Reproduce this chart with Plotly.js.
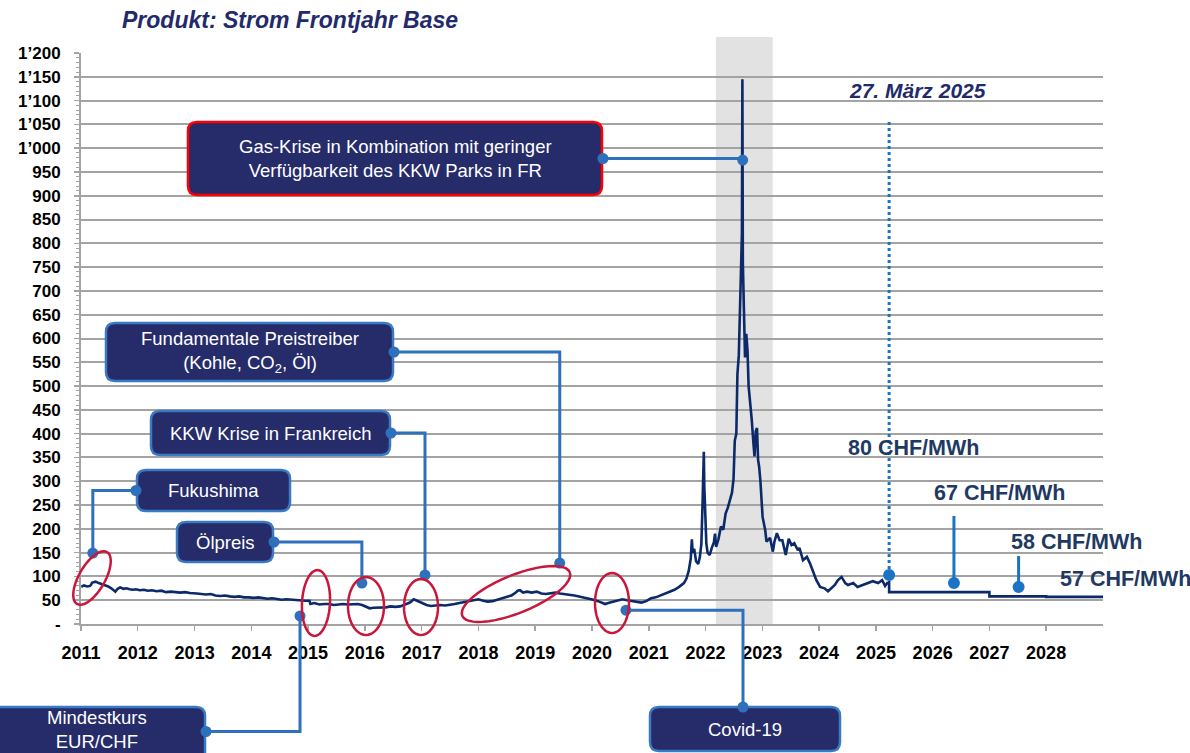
<!DOCTYPE html>
<html><head><meta charset="utf-8">
<script src="https://cdn.plot.ly/plotly-3.0.1.min.js"></script>
<style>html,body{margin:0;padding:0;background:#fff}#chart{width:1190px;height:753px}</style>
</head><body><div id="chart"></div>
<script>
// ---------------- DATA ----------------
const histDates = [
'2011-01-03','2011-01-20','2011-02-10','2011-03-01','2011-03-15','2011-04-05','2011-04-25','2011-05-15','2011-06-05','2011-06-25','2011-07-15','2011-08-10','2011-08-25','2011-09-10','2011-10-01','2011-10-20','2011-11-10','2011-12-01','2011-12-20',
'2012-01-15','2012-02-10','2012-03-05','2012-04-01','2012-05-01','2012-06-01','2012-07-01','2012-08-01','2012-09-01','2012-10-01','2012-11-01','2012-12-01',
'2013-01-15','2013-02-15','2013-03-15','2013-04-15','2013-05-15','2013-06-15','2013-07-15','2013-08-15','2013-09-15','2013-10-15','2013-11-15','2013-12-15',
'2014-01-15','2014-02-15','2014-03-15','2014-04-15','2014-05-15','2014-06-15','2014-07-15','2014-08-15','2014-09-15','2014-10-15','2014-11-15','2014-12-15',
'2015-01-10','2015-01-16','2015-02-10','2015-03-15','2015-04-15','2015-05-15','2015-06-15','2015-07-15','2015-08-15','2015-09-15','2015-10-15','2015-11-15','2015-12-15',
'2016-01-10','2016-02-01','2016-02-25','2016-03-20','2016-04-15','2016-05-15','2016-06-15','2016-07-15','2016-08-15','2016-09-15','2016-10-10','2016-10-25','2016-11-10','2016-11-25','2016-12-10','2016-12-25',
'2017-01-10','2017-02-01','2017-03-01','2017-04-01','2017-05-01','2017-06-01','2017-07-01','2017-08-01','2017-09-01','2017-10-01','2017-11-01','2017-12-01',
'2018-01-01','2018-02-01','2018-03-01','2018-04-01','2018-05-01','2018-06-01','2018-07-01','2018-08-01','2018-08-25','2018-09-10','2018-09-25','2018-10-15','2018-11-10','2018-12-10',
'2019-01-10','2019-02-10','2019-03-10','2019-04-10','2019-05-10','2019-06-10','2019-07-10','2019-08-10','2019-09-10','2019-10-10','2019-11-10','2019-12-10',
'2020-01-10','2020-02-10','2020-03-10','2020-03-25','2020-04-15','2020-05-15','2020-06-15','2020-07-15','2020-08-15','2020-09-15','2020-10-15','2020-11-15','2020-12-15',
'2021-01-15','2021-02-15','2021-03-15','2021-04-15','2021-05-15','2021-06-15','2021-07-15','2021-08-15','2021-09-01','2021-09-15','2021-09-28','2021-10-05','2021-10-10','2021-10-20','2021-11-01','2021-11-15','2021-11-25','2021-12-05','2021-12-12','2021-12-21','2021-12-24','2021-12-30',
'2022-01-06','2022-01-14','2022-01-28','2022-02-10','2022-02-24','2022-03-03','2022-03-10','2022-03-25','2022-04-10','2022-04-25','2022-05-10','2022-05-25','2022-06-10','2022-06-20','2022-06-30','2022-07-08','2022-07-18','2022-07-25','2022-08-03','2022-08-10','2022-08-18','2022-08-23','2022-08-26','2022-08-29','2022-09-05','2022-09-12','2022-09-20','2022-09-28','2022-10-05','2022-10-15','2022-10-25','2022-11-05','2022-11-12','2022-11-20','2022-11-28','2022-12-05','2022-12-12','2022-12-20','2022-12-28',
'2023-01-03','2023-01-20','2023-01-28','2023-02-20','2023-03-10','2023-03-20','2023-04-05','2023-04-22','2023-05-10','2023-06-01','2023-06-20','2023-07-08','2023-07-26','2023-08-18','2023-08-28','2023-09-20','2023-10-15','2023-11-03','2023-11-20','2023-12-15',
'2024-01-08','2024-02-05','2024-02-28','2024-03-25','2024-04-12','2024-05-01','2024-05-25','2024-06-18','2024-07-05','2024-08-08','2024-09-05','2024-10-08','2024-11-10','2024-12-12',
'2025-01-15','2025-02-10','2025-03-01','2025-03-20'
];
const histValues = [
78,81,79,80,87,89,86,84,81,79,75,68,74,77,74,75,73,72,73,
71,72,70,71,69,70,67,68,67,66,67,65,
64,63,62,63,60,59,60,58,57,58,56,56,
55,56,54,53,54,53,51,52,51,50,49,49,
49,42,44,41,42,42,40,41,42,41,42,42,40,
36,33,34,34,35,35,37,36,37,40,44,47,52,50,48,45,
44,40,38,39,40,39,40,42,44,46,49,51,
52,49,47,48,51,54,56,60,65,70,71,66,68,66,
68,64,63,65,66,64,63,61,60,58,56,53,
51,48,45,42,44,47,50,52,50,48,47,45,48,
54,56,60,64,67,72,78,86,96,112,138,178,150,158,132,126,140,168,245,362,290,215,
170,150,145,160,172,190,162,178,205,198,232,245,262,276,305,385,400,525,565,640,735,820,1145,760,660,560,610,575,500,470,430,380,352,405,412,345,330,300,260,
225,197,173,181,152,173,191,176,176,145,179,166,170,155,160,134,141,128,113,92,
78,75,69,78,82,92,99,86,82,86,78,82,86,90,
86,92,80,88
];
// Forward (Frontjahr) prices after 27. März 2025
const fwdDates  = ['2025-03-27','2027-01-01','2028-01-01','2029-01-01'];
const fwdValues = [67,58,57,57];

const yearLabels = ['2011','2012','2013','2014','2015','2016','2017','2018','2019','2020','2021','2022','2023','2024','2025','2026','2027','2028'];
const yTickVals = [0,50,100,150,200,250,300,350,400,450,500,550,600,650,700,750,800,850,900,950,1000,1050,1100,1150,1200];
const yTickText = ['-','50','100','150','200','250','300','350','400','450','500','550','600','650','700','750','800','850','900','950','1’000','1’050','1’100','1’150','1’200'];

const crisisPeriod = ['2022-03-08','2023-03-09'];

// Callouts: text, anchor date, anchor value
const calloutTexts = ['Gas-Krise in Kombination mit geringer<br>Verfügbarkeit des KKW Parks in FR','Fundamentale Preistreiber<br>(Kohle, CO<sub>2</sub>, Öl)','KKW Krise in Frankreich','Fukushima','Ölpreis','Mindestkurs<br>EUR/CHF','Covid-19'];
const calloutDates  = ['2022-08-28','2019-06-08','2017-01-22','2011-03-18','2015-12-13','2014-11-10','2020-08-07'];
const calloutValues = [975,128,103,149,86,17,29];

// Forward markers
const markerText = '27. März 2025';
const markerDate = '2025-03-27';
const fwdLabelTexts  = ['80 CHF/MWh','67 CHF/MWh','58 CHF/MWh','57 CHF/MWh'];
const fwdLabelDates  = ['2024-06-25','2025-12-28','2027-05-05','2028-03-18'];
const fwdLabelValues = [370,275,172,95];
const fwdDotDates    = ['2025-03-27','2026-05-18','2027-07-08'];
const fwdDotValues   = [103,86,78];
const fwdStemTops    = [1059,227,143];

// ---------------- LAYOUT HELPERS ----------------
const L=81, R=1103, T=53, B=624, W=1190, H=753;
const X = px => (px-L)/(R-L);
const Y = py => (B-py)/(B-T);
const t0 = Date.parse('2011-01-01'), t1 = Date.parse('2029-01-01');
const dPx = d => L + (Date.parse(d)-t0)/(t1-t0)*(R-L);
const vPx = v => B - v/1200*(B-T);

const navy='#0c2a69', boxFill='#262c6a', boxLine='#3a79c4', conn='#2f70bd', grid='#a3a3a3', fwdBlue='#1a73c4', labelNavy='#1f3a62', red='#c8173a';
const FONT='Liberation Sans, Arial, sans-serif';

function roundRect(x0,y0,x1,y1,r){
  const p=(a,b)=>X(a).toFixed(5)+','+Y(b).toFixed(5);
  return 'M'+p(x0+r,y0)+' L'+p(x1-r,y0)+' Q'+p(x1,y0)+' '+p(x1,y0+r)+' L'+p(x1,y1-r)+' Q'+p(x1,y1)+' '+p(x1-r,y1)+
         ' L'+p(x0+r,y1)+' Q'+p(x0,y1)+' '+p(x0,y1-r)+' L'+p(x0,y0+r)+' Q'+p(x0,y0)+' '+p(x0+r,y0)+' Z';
}
function dot(px,py,r,color){
  return {type:'circle',xref:'paper',yref:'paper',x0:X(px-r),x1:X(px+r),y0:Y(py+r),y1:Y(py-r),fillcolor:color,line:{width:0},layer:'above'};
}
function poly(pts,color,w){
  return {type:'path',xref:'paper',yref:'paper',path:'M'+pts.map(p=>X(p[0]).toFixed(5)+','+Y(p[1]).toFixed(5)).join(' L'),line:{color:color,width:w},layer:'above'};
}
function ellipse(cx,cy,rx,ry,rot){
  const a=rot*Math.PI/180, pts=[];
  for(let i=0;i<=48;i++){const t=i/48*2*Math.PI;const ex=rx*Math.cos(t),ey=ry*Math.sin(t);
    pts.push([cx+ex*Math.cos(a)-ey*Math.sin(a), cy+ex*Math.sin(a)+ey*Math.cos(a)]);}
  return poly(pts,red,2.5);
}

// box geometry (pixels) and side where the connector leaves the box
const boxes = [
  {x0:188,x1:602,y0:122,y1:195,side:'right',border:'#ff0000'},
  {x0:106,x1:393,y0:323,y1:381,side:'right',border:boxLine},
  {x0:151,x1:390,y0:411,y1:455,side:'right',border:boxLine},
  {x0:137,x1:290,y0:470,y1:511,side:'left',border:boxLine},
  {x0:177,x1:273,y0:522,y1:562,side:'right',border:boxLine},
  {x0:-12,x1:205,y0:707,y1:770,side:'right',border:boxLine},
  {x0:650,x1:840,y0:707,y1:751,side:'top',border:boxLine}
];

const shapes=[];
const annotations=[];
// crisis shading (drawn below gridlines)
shapes.push({type:'rect',xref:'x',yref:'paper',x0:crisisPeriod[0],x1:crisisPeriod[1],y0:0,y1:Y(37),fillcolor:'#e2e2e2',line:{width:0},layer:'below'});

// connectors
const ends=[];
boxes.forEach((b,i)=>{
  const ax=dPx(calloutDates[i]), ay=vPx(calloutValues[i]);
  let bp, pts;
  if(b.side==='top'){ // Covid: from anchor to the right, then down to box
    const cx=(b.x0+b.x1)/2-2;
    pts=[[ax,ay],[cx,ay],[cx,b.y0]]; bp=[cx,b.y0];
  } else {
    if(b.side==='right') bp=[b.x1+1,(b.y0+b.y1)/2+(i===5?-7:0)];
    else bp=[b.x0-1,(b.y0+b.y1)/2];
    pts=[bp,[ax,bp[1]],[ax,ay]];
  }
  shapes.push(poly(pts,conn,3));
  ends.push([bp,[ax,ay]]);
});
// boxes
boxes.forEach((b,i)=>{
  shapes.push({type:'path',xref:'paper',yref:'paper',path:roundRect(b.x0,b.y0,b.x1,b.y1,9),fillcolor:boxFill,line:{color:b.border,width:2.5},layer:'above'});
  const cy = i===5 ? 729 : (b.y0+b.y1)/2;
  annotations.push({xref:'paper',yref:'paper',x:X((b.x0+b.x1)/2),y:Y(cy),text:calloutTexts[i],showarrow:false,xanchor:'center',yanchor:'middle',
    font:{family:FONT,size:18.5,color:'#ffffff'},align:'center'});
});
ends.forEach(e=>{shapes.push(dot(e[0][0],e[0][1],5.5,conn));shapes.push(dot(e[1][0],e[1][1],5.5,conn));});

// forward marker dotted line + stems
shapes.push({type:'line',xref:'x',yref:'y',x0:markerDate,x1:markerDate,y0:fwdDotValues[0],y1:fwdStemTops[0],line:{color:fwdBlue,width:3,dash:'dot'},layer:'above'});
for(let i=1;i<fwdDotDates.length;i++){
  shapes.push({type:'line',xref:'x',yref:'y',x0:fwdDotDates[i],x1:fwdDotDates[i],y0:fwdDotValues[i],y1:fwdStemTops[i],line:{color:fwdBlue,width:3},layer:'above'});
}
fwdDotDates.forEach((d,i)=>shapes.push(dot(dPx(d),vPx(fwdDotValues[i]),6,fwdBlue)));

fwdLabelTexts.forEach((t,i)=>annotations.push({xref:'x',yref:'y',x:fwdLabelDates[i],y:fwdLabelValues[i],text:t,showarrow:false,xanchor:'left',yanchor:'middle',
  font:{family:FONT,size:21.5,color:labelNavy,weight:'bold'}}));
annotations.push({xref:'x',yref:'y',x:'2024-06-28',y:1122,text:markerText,showarrow:false,xanchor:'left',yanchor:'middle',
  font:{family:FONT,size:21,color:'#222a6b',weight:'bold',style:'italic'}});

// hand-drawn red ellipses
shapes.push(ellipse(92,578,13,30,30));
shapes.push(ellipse(316,603,14,33,3));
shapes.push(ellipse(366,606,18,29,0));
shapes.push(ellipse(421,607,17,28,0));
shapes.push(ellipse(516,594,58,19,-22));
shapes.push(ellipse(612,603,17,30,0));

// ---------------- TRACES ----------------
const lastI = histDates.length-1;
const traces=[
  {type:'scatter',mode:'lines',x:histDates,y:histValues,line:{color:navy,width:2.6},hoverinfo:'skip'},
  {type:'scatter',mode:'lines',x:[histDates[lastI]].concat(fwdDates),y:[histValues[lastI]].concat(fwdValues),line:{color:navy,width:2.6,shape:'hv'},hoverinfo:'skip'}
];

const layout={
  width:W,height:H,margin:{l:L,r:W-R,t:T,b:H-B},
  paper_bgcolor:'#ffffff',plot_bgcolor:'rgba(0,0,0,0)',showlegend:false,hovermode:false,
  title:{text:'Produkt: Strom Frontjahr Base',xref:'container',yref:'container',x:122/W,xanchor:'left',y:1-20/H,yanchor:'middle',
    font:{family:FONT,size:23,color:'#222a6b',weight:'bold',style:'italic'}},
  xaxis:{type:'date',range:['2011-01-01','2029-01-01'],tickvals:yearLabels.map(y=>y+'-01-01'),ticktext:yearLabels,
    ticks:'outside',ticklen:5,tickwidth:1.5,tickcolor:grid,showgrid:false,showline:true,linecolor:grid,linewidth:2,zeroline:false,
    tickfont:{family:FONT,size:18,color:'#000',weight:'bold'},ticklabelstandoff:6,fixedrange:true},
  yaxis:{range:[0,1200],tickvals:yTickVals,ticktext:yTickText,ticks:'outside',ticklen:5,tickwidth:1.5,tickcolor:grid,
    showgrid:true,gridcolor:grid,gridwidth:2,showline:true,linecolor:grid,linewidth:2,zeroline:false,
    minor:{dtick:10,ticks:'outside',ticklen:3,tickcolor:grid,tickwidth:1,showgrid:false},
    tickfont:{family:FONT,size:17,color:'#000',weight:'bold'},ticklabelstandoff:10,fixedrange:true},
  shapes:shapes,annotations:annotations
};
Plotly.newPlot('chart',traces,layout,{displayModeBar:false,staticPlot:true});
</script></body></html>
